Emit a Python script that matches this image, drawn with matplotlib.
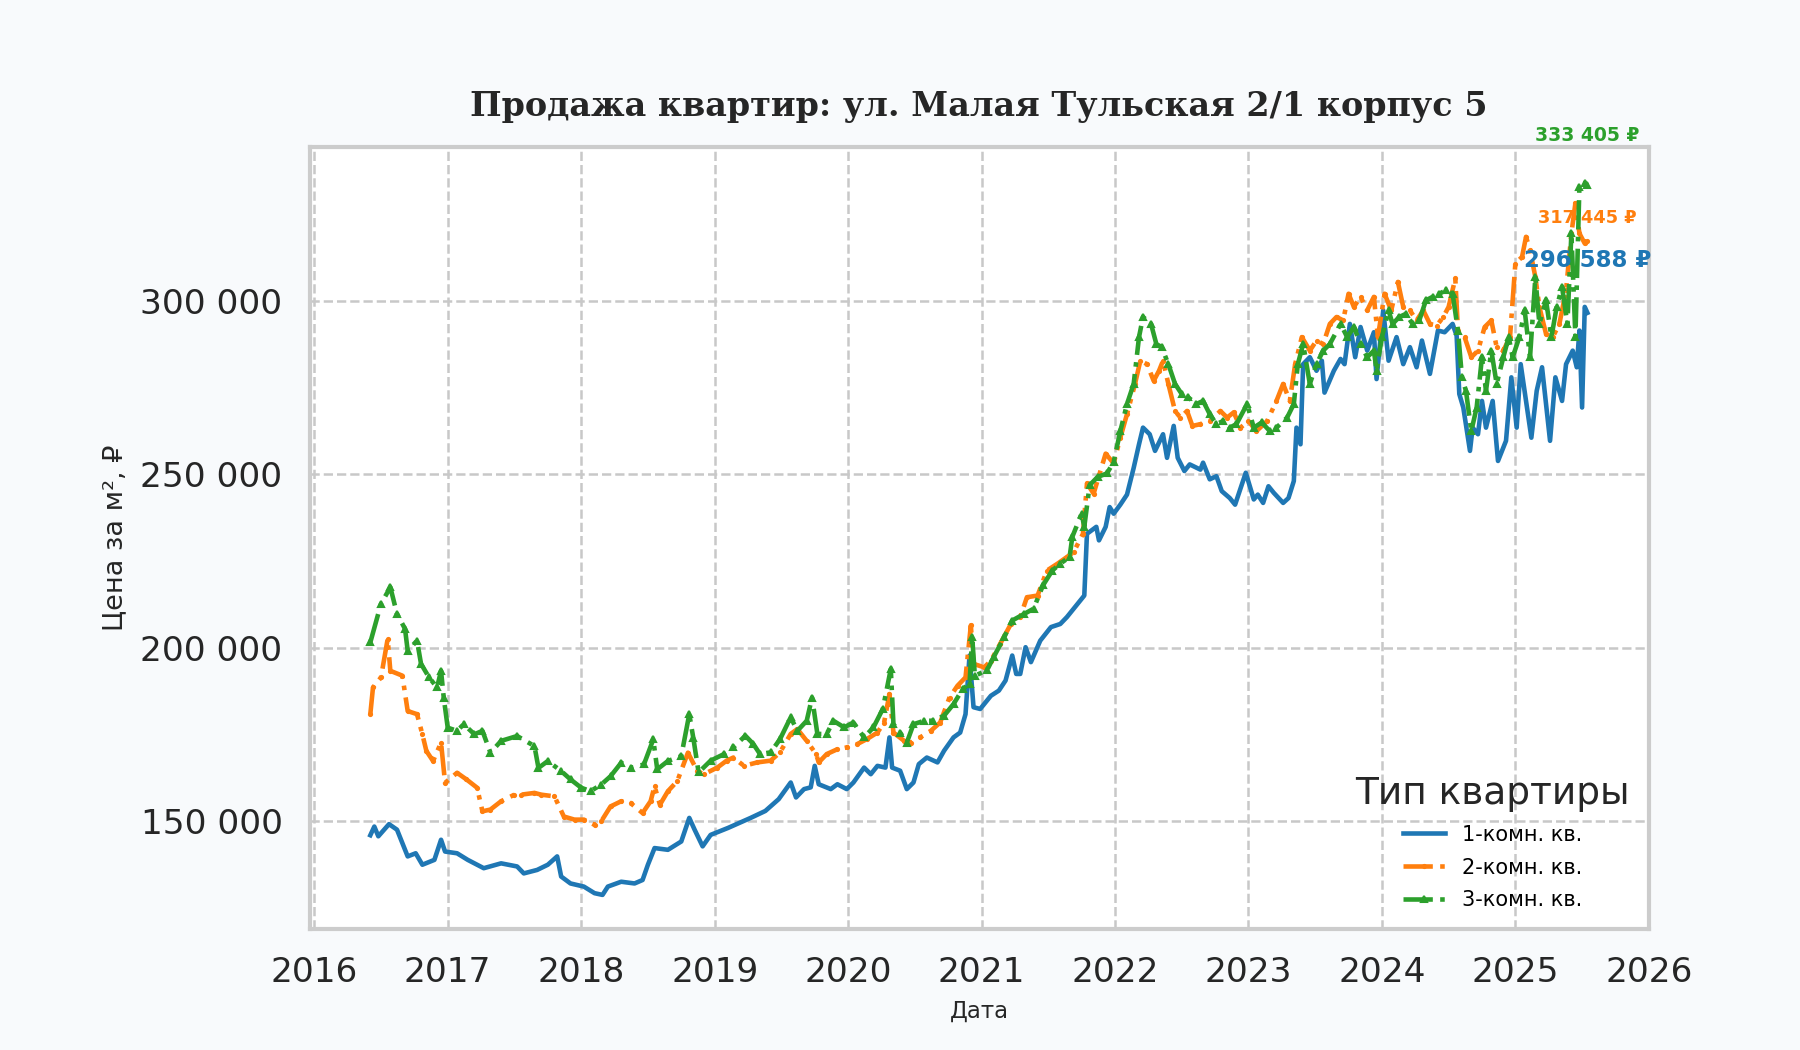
import matplotlib
matplotlib.use('Agg')
import matplotlib.pyplot as plt
from matplotlib.ticker import FuncFormatter, MultipleLocator

# price per m2 (x in decimal years)
one_room_x = [2016.42, 2016.45, 2016.48, 2016.56, 2016.62, 2016.70, 2016.76, 2016.81, 2016.90, 2016.95,
              2016.98, 2017.07, 2017.15, 2017.27, 2017.40, 2017.52, 2017.57, 2017.67, 2017.75, 2017.82,
              2017.85, 2017.92, 2018.02, 2018.10, 2018.16, 2018.20, 2018.30, 2018.40, 2018.46, 2018.50,
              2018.55, 2018.65, 2018.75, 2018.81, 2018.85, 2018.91, 2018.97, 2019.10, 2019.27, 2019.38,
              2019.48, 2019.57, 2019.61, 2019.67, 2019.72, 2019.75, 2019.78, 2019.87, 2019.92, 2019.99,
              2020.04, 2020.12, 2020.17, 2020.22, 2020.28, 2020.31, 2020.33, 2020.39, 2020.44, 2020.49,
              2020.53, 2020.59, 2020.67, 2020.72, 2020.79, 2020.84, 2020.88, 2020.91, 2020.94, 2020.99,
              2021.07, 2021.13, 2021.18, 2021.23, 2021.26, 2021.29, 2021.33, 2021.37, 2021.44, 2021.52,
              2021.59, 2021.64, 2021.72, 2021.77, 2021.79, 2021.86, 2021.88, 2021.93, 2021.96, 2021.99,
              2022.04, 2022.09, 2022.14, 2022.18, 2022.21, 2022.26, 2022.30, 2022.36, 2022.39, 2022.44,
              2022.47, 2022.52, 2022.56, 2022.64, 2022.66, 2022.71, 2022.76, 2022.80, 2022.86, 2022.90,
              2022.98, 2023.04, 2023.07, 2023.11, 2023.15, 2023.19, 2023.26, 2023.30, 2023.34, 2023.36,
              2023.39, 2023.41, 2023.46, 2023.51, 2023.55, 2023.57, 2023.64, 2023.69, 2023.72, 2023.76,
              2023.80, 2023.84, 2023.89, 2023.94, 2023.96, 2024.01, 2024.05, 2024.11, 2024.16, 2024.21,
              2024.26, 2024.30, 2024.36, 2024.42, 2024.47, 2024.53, 2024.56, 2024.58, 2024.61, 2024.66,
              2024.68, 2024.72, 2024.75, 2024.78, 2024.83, 2024.87, 2024.93, 2024.97, 2025.01, 2025.04,
              2025.12, 2025.16, 2025.20, 2025.26, 2025.30, 2025.35, 2025.38, 2025.43, 2025.46, 2025.48,
              2025.50, 2025.52, 2025.54]
one_room_y = [146000, 148500, 145700, 149200, 147600, 139900, 140800, 137500, 138900, 144700,
              141300, 140800, 138900, 136500, 137900, 137000, 135000, 136000, 137500, 139900,
              134100, 132100, 131200, 129300, 128800, 131200, 132600, 132100, 133100, 137500,
              142300, 141800, 144200, 151000, 147600, 142800, 146100, 148100, 151000, 153000,
              156400, 161200, 156900, 159300, 159800, 166000, 160700, 159300, 160700, 159300,
              161200, 165500, 163600, 166000, 165500, 174200, 165500, 164600, 159300, 161200,
              166500, 168400, 167000, 170400, 174200, 175600, 180900, 197800, 182900, 182400,
              186200, 187700, 190600, 197800, 192500, 192500, 200200, 195900, 202100, 206000,
              206900, 208900, 212700, 215100, 232900, 234900, 231000, 234900, 240600, 238700,
              241300, 244200, 251900, 258700, 263500, 261600, 256800, 261600, 254800, 264000,
              254800, 251000, 252900, 251400, 253400, 248600, 249500, 245200, 243200, 241300,
              250500, 242800, 244200, 241800, 246600, 244700, 241800, 243200, 248100, 263500,
              258700, 281800, 283800, 279900, 282800, 273600, 279900, 283300, 281800, 293400,
              283800, 292500, 285700, 291000, 277500, 297300, 282800, 289600, 281800, 286700,
              280900, 288600, 279000, 291500, 291000, 293400, 290000, 273200, 269300, 256800,
              263500, 261600, 271200, 263500, 271200, 253900, 259700, 278000, 263500, 281800,
              260600, 274100, 280900, 259700, 278000, 271200, 281800, 285700, 280900, 291500,
              269300, 298300, 296588]

two_room_x = [2016.42, 2016.44, 2016.50, 2016.55, 2016.57, 2016.66, 2016.70, 2016.77, 2016.81, 2016.84,
              2016.89, 2016.95, 2016.98, 2017.07, 2017.14, 2017.22, 2017.26, 2017.32, 2017.40, 2017.50,
              2017.55, 2017.65, 2017.70, 2017.80, 2017.87, 2017.95, 2018.02, 2018.10, 2018.15, 2018.22,
              2018.30, 2018.37, 2018.46, 2018.52, 2018.55, 2018.59, 2018.65, 2018.72, 2018.80, 2018.87,
              2018.92, 2019.02, 2019.09, 2019.14, 2019.22, 2019.32, 2019.42, 2019.49, 2019.57, 2019.62,
              2019.69, 2019.76, 2019.78, 2019.84, 2019.92, 2019.99, 2020.07, 2020.14, 2020.22, 2020.27,
              2020.31, 2020.34, 2020.42, 2020.47, 2020.54, 2020.62, 2020.69, 2020.76, 2020.82, 2020.88,
              2020.92, 2020.94, 2021.02, 2021.07, 2021.14, 2021.22, 2021.29, 2021.34, 2021.42, 2021.49,
              2021.57, 2021.64, 2021.69, 2021.76, 2021.79, 2021.84, 2021.93, 2021.99, 2022.04, 2022.09,
              2022.15, 2022.19, 2022.24, 2022.29, 2022.33, 2022.36, 2022.40, 2022.45, 2022.49, 2022.54,
              2022.58, 2022.64, 2022.71, 2022.79, 2022.84, 2022.89, 2022.94, 2023.00, 2023.06, 2023.14,
              2023.21, 2023.26, 2023.31, 2023.35, 2023.40, 2023.46, 2023.51, 2023.56, 2023.61, 2023.66,
              2023.71, 2023.75, 2023.79, 2023.84, 2023.89, 2023.94, 2023.97, 2024.02, 2024.07, 2024.12,
              2024.16, 2024.21, 2024.26, 2024.31, 2024.36, 2024.41, 2024.46, 2024.50, 2024.55, 2024.57,
              2024.62, 2024.67, 2024.72, 2024.77, 2024.82, 2024.86, 2024.91, 2024.96, 2025.00, 2025.05,
              2025.08, 2025.11, 2025.15, 2025.18, 2025.23, 2025.28, 2025.33, 2025.38, 2025.42, 2025.45,
              2025.48, 2025.52, 2025.54]
two_room_y = [180900, 188600, 191500, 202600, 193400, 192000, 181800, 180900, 175100, 170300,
              167400, 172700, 161100, 164000, 162100, 159700, 152900, 153400, 155800, 157700,
              157700, 158200, 157700, 157200, 151400, 150500, 150500, 149000, 150000, 154300,
              155800, 155300, 152400, 155800, 160100, 154800, 158700, 161600, 169800, 164500,
              163600, 165500, 167500, 168400, 166000, 167000, 167500, 169900, 175200, 176600,
              173200, 169400, 167000, 169400, 170800, 171300, 172300, 173700, 175600, 178500,
              186700, 175600, 173200, 172700, 174200, 176100, 178500, 185700, 189100, 191500,
              206500, 195400, 194400, 196300, 201200, 206900, 208900, 214600, 215100, 222300,
              224300, 226200, 227600, 232900, 247400, 244500, 256000, 253200, 260600, 267400,
              276100, 282800, 281800, 277000, 279900, 282800, 276100, 268300, 266400, 268300,
              264000, 264500, 265400, 268300, 266400, 267900, 263500, 265400, 262500, 265400,
              271200, 276100, 271200, 281800, 289600, 285700, 288600, 287600, 293400, 295400,
              294400, 302100, 298300, 301200, 297300, 301200, 289600, 302100, 297300, 305500,
              298300, 297300, 294400, 297300, 293400, 292900, 295400, 298300, 306500, 291500,
              289600, 283800, 285700, 292500, 294400, 286700, 285700, 289600, 310800, 312700,
              318500, 314700, 306900, 298300, 290500, 289600, 293400, 303100, 319500, 328200,
              319500, 316600, 317445]

three_room_x = [2016.42, 2016.50, 2016.57, 2016.62, 2016.68, 2016.70, 2016.77, 2016.80, 2016.86, 2016.92,
                2016.95, 2016.97, 2017.00, 2017.07, 2017.12, 2017.20, 2017.26, 2017.32, 2017.40, 2017.52,
                2017.65, 2017.68, 2017.75, 2017.85, 2017.92, 2018.00, 2018.07, 2018.15, 2018.22, 2018.30,
                2018.37, 2018.47, 2018.54, 2018.57, 2018.65, 2018.75, 2018.81, 2018.84, 2018.88, 2018.97,
                2019.07, 2019.14, 2019.23, 2019.29, 2019.34, 2019.42, 2019.49, 2019.57, 2019.62, 2019.69,
                2019.73, 2019.77, 2019.84, 2019.89, 2019.97, 2020.04, 2020.12, 2020.19, 2020.26, 2020.32,
                2020.34, 2020.39, 2020.44, 2020.49, 2020.57, 2020.64, 2020.72, 2020.79, 2020.86, 2020.91,
                2020.93, 2020.95, 2021.04, 2021.09, 2021.17, 2021.23, 2021.32, 2021.39, 2021.46, 2021.53,
                2021.59, 2021.66, 2021.68, 2021.75, 2021.77, 2021.81, 2021.87, 2021.94, 2021.99, 2022.04,
                2022.09, 2022.14, 2022.18, 2022.21, 2022.27, 2022.31, 2022.35, 2022.40, 2022.45, 2022.50,
                2022.55, 2022.61, 2022.66, 2022.71, 2022.76, 2022.81, 2022.86, 2022.91, 2022.99, 2023.04,
                2023.10, 2023.16, 2023.21, 2023.29, 2023.34, 2023.37, 2023.41, 2023.46, 2023.51, 2023.56,
                2023.61, 2023.69, 2023.74, 2023.79, 2023.84, 2023.89, 2023.94, 2023.96, 2024.00, 2024.05,
                2024.08, 2024.13, 2024.18, 2024.23, 2024.28, 2024.33, 2024.38, 2024.43, 2024.48, 2024.53,
                2024.57, 2024.60, 2024.63, 2024.67, 2024.71, 2024.75, 2024.78, 2024.82, 2024.86, 2024.91,
                2024.95, 2024.98, 2025.03, 2025.07, 2025.11, 2025.15, 2025.18, 2025.23, 2025.27, 2025.31,
                2025.35, 2025.39, 2025.42, 2025.45, 2025.48, 2025.52, 2025.54]
three_room_y = [201600, 212700, 217500, 209800, 205500, 199200, 202100, 195400, 191500, 188600,
                193400, 185700, 177000, 176100, 178000, 175100, 176100, 169800, 173200, 174600,
                171700, 165400, 167400, 164500, 162100, 159700, 158700, 160600, 163000, 166900,
                165400, 166400, 173600, 165000, 167400, 168800, 180900, 174100, 164100, 167500,
                169400, 171300, 174700, 172300, 169400, 169900, 173700, 180000, 176100, 179000,
                185700, 175200, 175200, 179000, 177100, 178500, 174200, 177100, 182400, 193900,
                178000, 175600, 172700, 178000, 179000, 179000, 180500, 183800, 188200, 189600,
                203100, 192000, 193500, 197300, 203100, 207900, 209800, 211300, 218000, 222300,
                224300, 226200, 232000, 238700, 234900, 246900, 249300, 250300, 253600, 262500,
                270300, 276100, 289600, 295400, 293400, 287600, 286700, 281800, 276100, 273200,
                272200, 270300, 271200, 267400, 264500, 265400, 263500, 264500, 270300, 263500,
                265000, 262500, 263500, 266400, 270300, 281800, 287600, 276100, 281800, 285700,
                287600, 293400, 289600, 292500, 287600, 283800, 285700, 279900, 289600, 297300,
                293400, 295400, 296300, 293400, 294400, 300200, 301200, 302100, 303100, 302100,
                291500, 278000, 274100, 262500, 269300, 283800, 274100, 285700, 276100, 283800,
                289600, 283800, 289600, 297300, 283800, 306900, 293400, 300200, 289600, 298300,
                304000, 293400, 319500, 289600, 333000, 334000, 333405]

labels = ['1-комн. кв.', '2-комн. кв.', '3-комн. кв.']
colors = ['#1f77b4', '#ff7f0e', '#2ca02c']


def fmt_rub(v):
    return f'{v:,.0f}'.replace(',', ' ')


fig = plt.figure(figsize=(12, 7), dpi=150, facecolor='#f8fafc')
ax = fig.add_axes([0.172, 0.115, 0.744, 0.745])
ax.set_facecolor('white')

ax.plot(one_room_x, one_room_y, color=colors[0], lw=2.2, label=labels[0])
ax.plot(two_room_x, two_room_y, color=colors[1], lw=2.2, ls='-.', marker='.', ms=3, label=labels[1])
ax.plot(three_room_x, three_room_y, color=colors[2], lw=2.2, ls='-.', marker='^', ms=2.5, label=labels[2])

# last-value labels
ax.text(one_room_x[-1], one_room_y[-1] + 15000, fmt_rub(one_room_y[-1]) + ' ₽', color=colors[0],
        fontsize=11, fontweight='bold', ha='center', va='center')
ax.text(two_room_x[-1], two_room_y[-1] + 6400, fmt_rub(two_room_y[-1]) + ' ₽', color=colors[1],
        fontsize=8.5, fontweight='bold', ha='center', va='center')
ax.text(three_room_x[-1], three_room_y[-1] + 14300, fmt_rub(three_room_y[-1]) + ' ₽', color=colors[2],
        fontsize=9, fontweight='bold', ha='center', va='center', clip_on=False)

ax.set_xlim(2015.965, 2026.0)
ax.set_ylim(118900, 344400)
ax.xaxis.set_major_locator(MultipleLocator(1))
ax.xaxis.set_major_formatter(FuncFormatter(lambda v, p: f'{int(round(v))}'))
ax.yaxis.set_major_locator(MultipleLocator(50000))
ax.yaxis.set_major_formatter(FuncFormatter(lambda v, p: fmt_rub(v)))
ax.tick_params(axis='both', labelsize=16.5, length=0, pad=13, labelcolor='#262626')

ax.grid(True, ls='--', color='#c8c8c8', lw=1.2)
for s in ax.spines.values():
    s.set_color('#cccccc')
    s.set_linewidth(2)

ax.set_title('Продажа квартир: ул. Малая Тульская 2/1 корпус 5', fontsize=16, fontweight='bold',
             family='DejaVu Serif', color='#262626', pad=15)
ax.set_xlabel('Дата', fontsize=11, color='#262626', labelpad=5)
ax.set_ylabel('Цена за м², ₽', fontsize=13, color='#262626', labelpad=6)

leg = ax.legend(title='Тип квартиры', loc='lower right', frameon=False, fontsize=10,
                title_fontsize=18, handlelength=2.0, labelspacing=0.62)
leg.get_title().set_color('#262626')

fig.savefig('out.png', dpi=150, facecolor=fig.get_facecolor())
